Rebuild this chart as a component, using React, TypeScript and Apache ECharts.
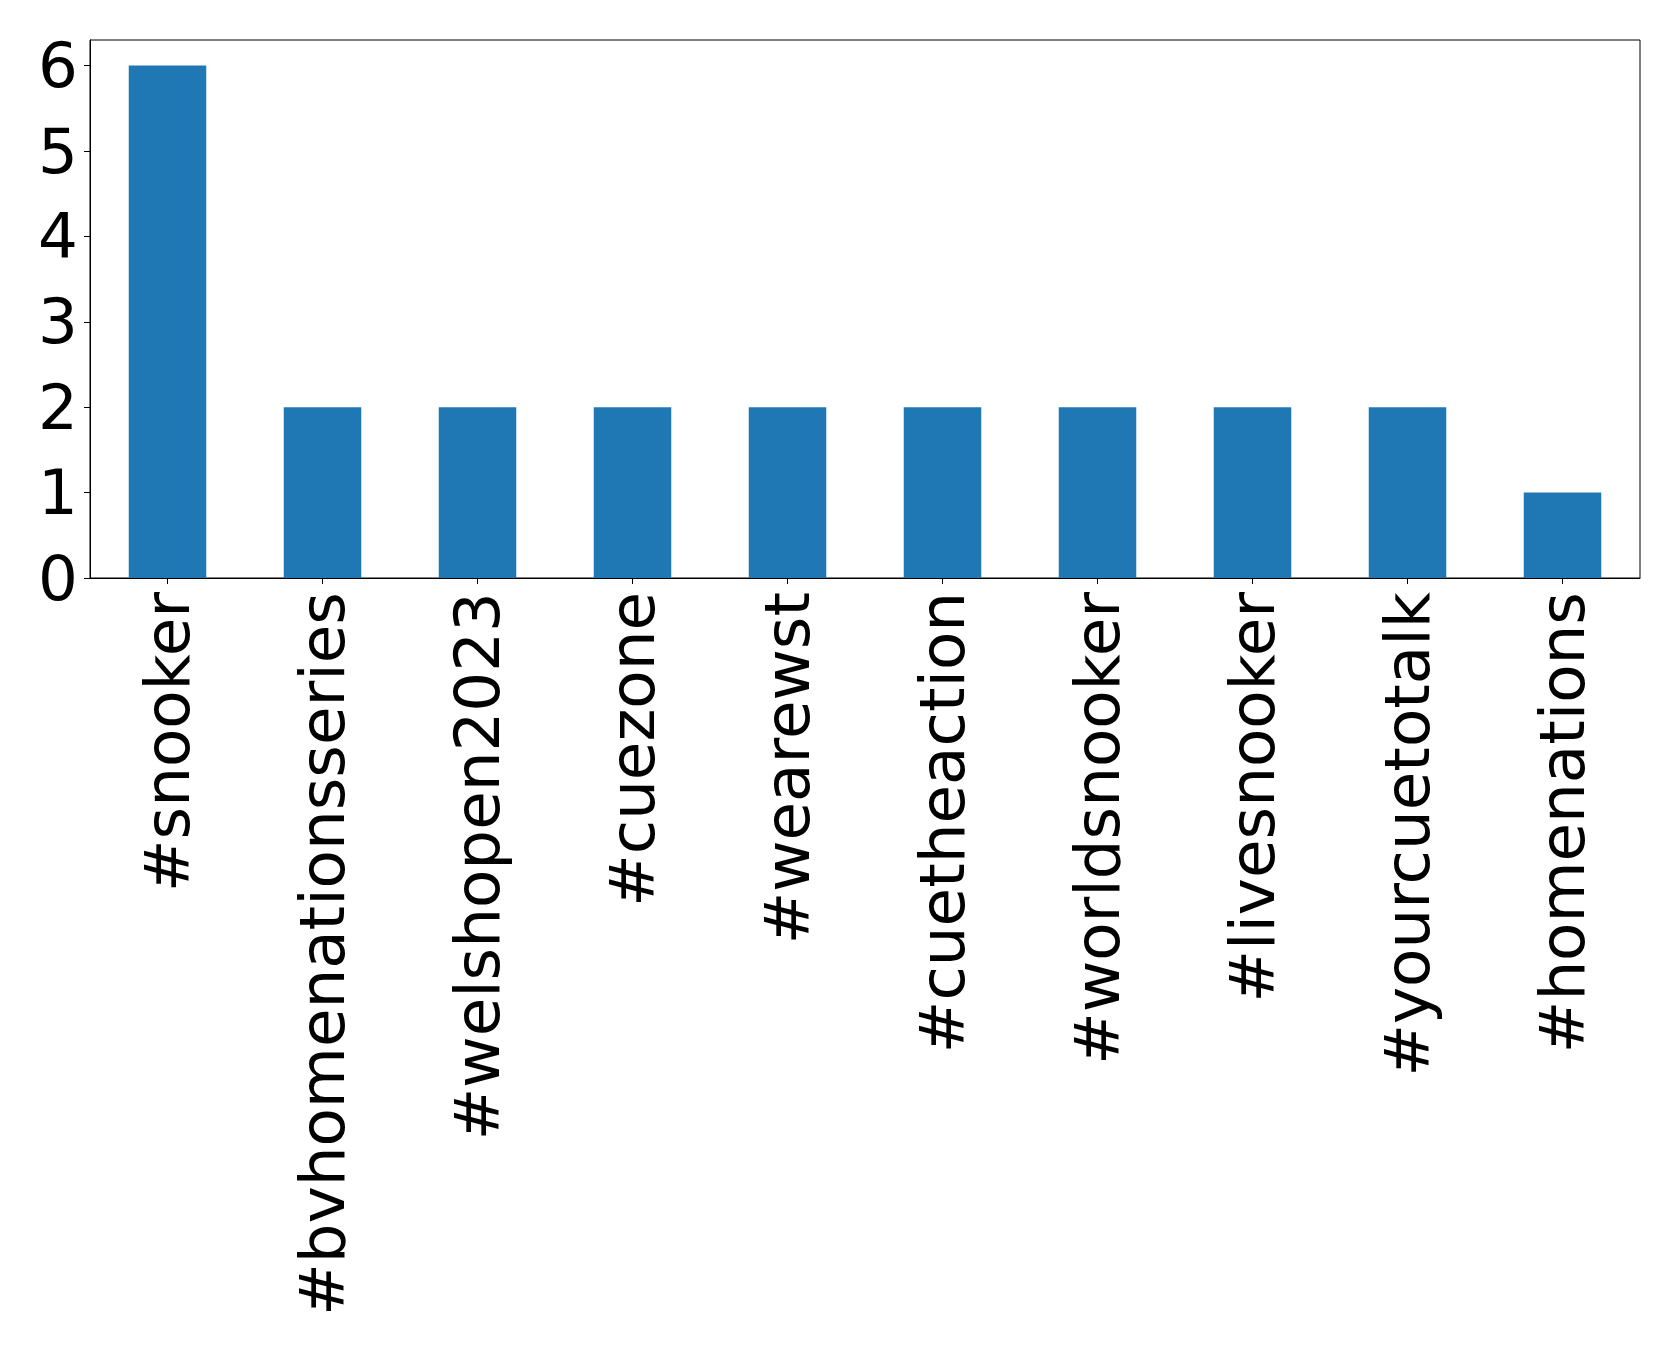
import React, { useEffect, useRef } from "react";
import * as echarts from "echarts";

const categories = [
  "#snooker",
  "#bvhomenationsseries",
  "#welshopen2023",
  "#cuezone",
  "#wearewst",
  "#cuetheaction",
  "#worldsnooker",
  "#livesnooker",
  "#yourcuetotalk",
  "#homenations",
];
const counts = [6, 2, 2, 2, 2, 2, 2, 2, 2, 1];
const yTicks = [0, 1, 2, 3, 4, 5, 6];

export default function App() {
  const ref = useRef<HTMLDivElement>(null);
  useEffect(() => {
    document.body.style.margin = "0";
    const chart = echarts.init(ref.current!, null, { renderer: "svg" });
    const font = "DejaVu Sans";
    chart.setOption({
      animation: false,
      backgroundColor: "#ffffff",
      grid: {
        left: 90,
        top: 40,
        right: 39,
        bottom: 771,
        show: true,
        borderColor: "#000",
        borderWidth: 1,
        backgroundColor: "transparent",
        containLabel: false,
      },
      xAxis: {
        type: "category",
        data: categories,
        boundaryGap: true,
        axisLine: { show: true, lineStyle: { color: "#000", width: 1 } },
        axisTick: { show: true, alignWithLabel: true, length: 6, lineStyle: { color: "#000" } },
        axisLabel: {
          rotate: 90,
          interval: 0,
          margin: 14,
          color: "#000",
          fontFamily: font,
          fontSize: 62.7,
        },
        splitLine: { show: false },
      },
      yAxis: {
        type: "value",
        min: 0,
        max: 6.3,
        interval: 1,
        axisLine: { show: true, lineStyle: { color: "#000", width: 1 } },
        axisTick: { show: true, length: 6, lineStyle: { color: "#000" }, customValues: yTicks },
        axisLabel: {
          margin: 12,
          color: "#000",
          fontFamily: font,
          fontSize: 62.7,
          customValues: yTicks,
        },
        splitLine: { show: false },
      },
      series: [
        {
          type: "bar",
          data: counts,
          barWidth: "50%",
          itemStyle: { color: "#1f77b4" },
        },
      ],
    });
    return () => chart.dispose();
  }, []);
  return <div ref={ref} style={{ width: 1679, height: 1349 }} />;
}
